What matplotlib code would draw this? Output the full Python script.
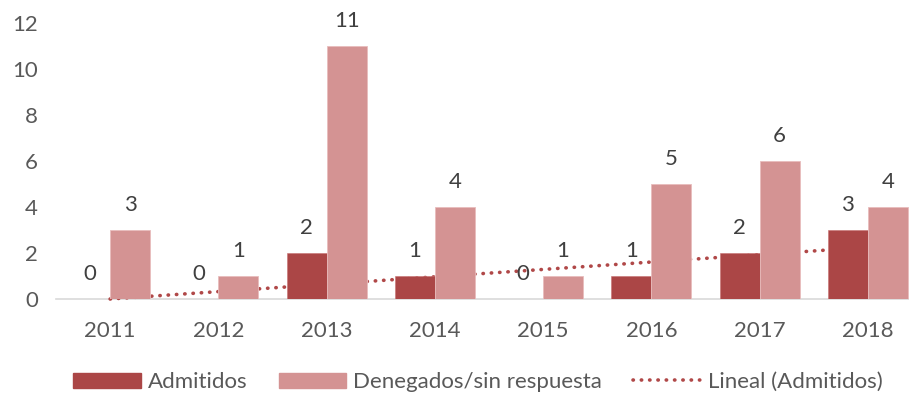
import matplotlib
matplotlib.use("Agg")
import matplotlib.pyplot as plt
import numpy as np
from matplotlib.lines import Line2D
from matplotlib.patches import Patch

years = ["2011", "2012", "2013", "2014", "2015", "2016", "2017", "2018"]
admitidos = [0, 0, 2, 1, 0, 1, 2, 3]
denegados = [3, 1, 11, 4, 1, 5, 6, 4]
yticks = [0, 2, 4, 6, 8, 10, 12]

dark = "#AB4646"
light = "#D49393"
trend_col = "#B04848"
text_col = "#595959"
fs = 16

plt.rcParams["font.family"] = ["Lato", "DejaVu Sans"]

fig = plt.figure(figsize=(9.09, 3.94), dpi=100)
ax = fig.add_axes([56 / 909, 95 / 394, 866 / 909, 276 / 394])

x = np.arange(len(years))
w = 40 / 108.3

# least-squares trend of the admitted series, drawn behind the bars
coef = np.polyfit(x + 1, admitidos, 1)
trend = np.polyval(coef, x + 1)
dots = (0, (0.1, 2.2))
ax.plot(x, trend, linestyle=dots, dash_capstyle="round",
        color=trend_col, linewidth=2.6, zorder=1, clip_on=False)

ax.bar(x - w / 2, admitidos, width=w, color=dark, zorder=2,
       edgecolor="#C77070", linewidth=0.4)
ax.bar(x + w / 2, denegados, width=w, color=light, zorder=2,
       edgecolor="#E8BDBD", linewidth=0.6)

for xs, vals in ((x - w / 2, admitidos), (x + w / 2, denegados)):
    for xi, v in zip(xs, vals):
        ax.annotate(str(v), (xi, v), xytext=(0, 18), textcoords="offset points",
                    ha="center", va="center", fontsize=fs, color="#404040")

ax.set_xlim(-0.5, len(years) - 0.5)
ax.set_ylim(0, 12)
ax.set_yticks(yticks)
ax.set_xticks(x)
ax.set_xticklabels(years)
ax.tick_params(axis="both", length=0, labelsize=fs, colors=text_col)
ax.tick_params(axis="x", pad=16)
ax.tick_params(axis="y", pad=13)
for s in ["top", "right", "left"]:
    ax.spines[s].set_visible(False)
ax.spines["bottom"].set_color("#D9D9D9")
ax.spines["bottom"].set_linewidth(1.2)
ax.spines["bottom"].set_zorder(0.5)

handles = [
    Patch(facecolor=dark, edgecolor=dark),
    Patch(facecolor=light, edgecolor=light),
    Line2D([0], [0], linestyle=dots, dash_capstyle="round",
           color=trend_col, linewidth=2.6),
]
labels = ["Admitidos", "Denegados/sin respuesta", "Lineal (Admitidos)"]
fig.legend(handles, labels, loc="center", bbox_to_anchor=(478 / 909, 1 - 382 / 394),
           ncol=3, frameon=False, fontsize=fs, labelcolor=text_col,
           handlelength=3.05, handleheight=0.65, handletextpad=0.32,
           columnspacing=1.4, borderpad=0)

fig.savefig("out.png", dpi=100)
